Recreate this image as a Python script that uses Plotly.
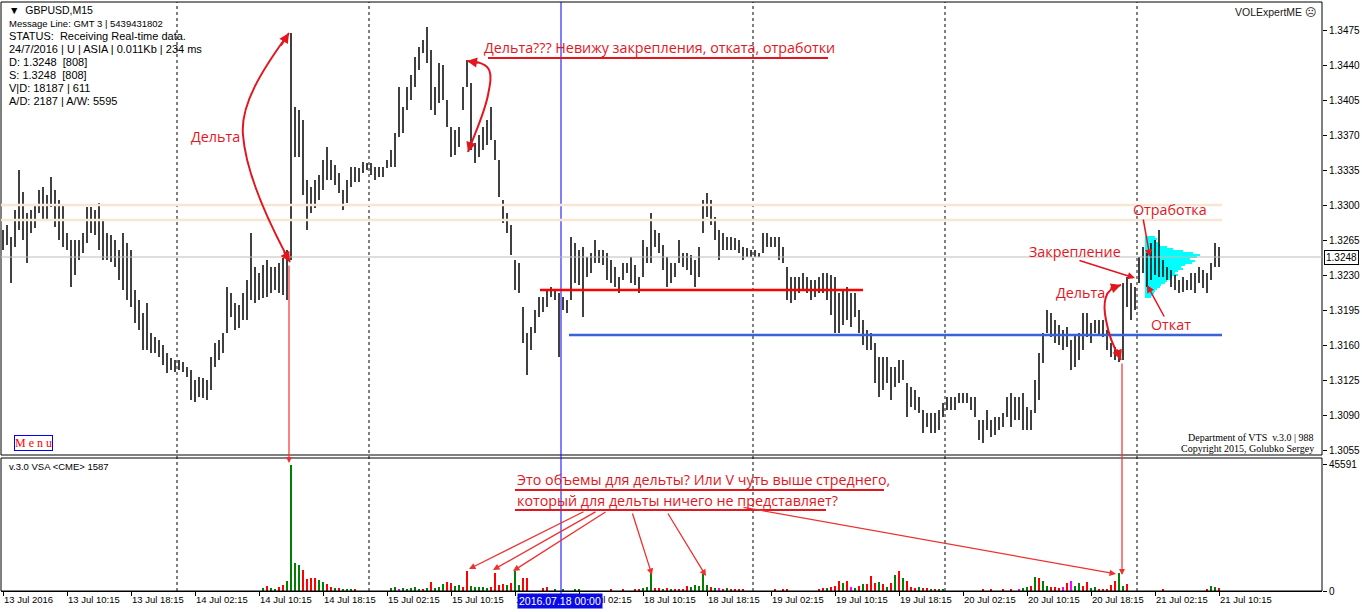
import plotly.graph_objects as go

# ------------------------------------------------------------------ data
# GBPUSD, 30-minute high/low sampled (time index in M15 bars = 2*k)
high = [
 1.3275,1.3280,1.3268,1.3295,1.3335,1.3313,1.3292,1.3295,1.3300,1.3315,
 1.3318,1.3310,1.3328,1.3315,1.3305,1.3300,1.3272,1.3265,1.3265,1.3265,
 1.3272,1.3298,1.3298,1.3295,1.3302,1.3285,1.3272,1.3270,1.3265,1.3255,
 1.3272,1.3262,
 1.3255,1.3215,1.3205,1.3192,1.3202,1.3172,1.3168,1.3165,1.3160,1.3152,
 1.3147,1.3145,1.3145,1.3143,1.3138,1.3135,1.3125,1.3128,1.3127,1.3125,
 1.3148,1.3162,1.3165,1.3172,1.3218,1.3212,1.3202,1.3200,1.3212,1.3225,
 1.3272,1.3238,1.3232,1.3240,1.3245,1.3238,1.3238,1.3242,1.3247,1.3255,
 1.3472,1.3398,1.3395,1.3385,1.3325,1.3318,1.3325,1.3330,1.3345,1.3358,
 1.3345,1.3340,1.3332,1.3315,1.3325,1.3338,1.3338,1.3337,1.3343,1.3342,
 1.3342,1.3338,1.3338,1.3338,1.3345,1.3355,1.3372,1.3418,1.3398,1.3418,
 1.3430,1.3448,1.3458,1.3465,1.3478,1.3455,1.3418,1.3442,1.3440,1.3405,
 1.3378,1.3375,1.3378,1.3418,1.3445,1.3422,1.3362,1.3370,
 1.3378,1.3385,1.3398,1.3365,1.3345,1.3305,1.3292,1.3280,1.3245,1.3242,
 1.3198,1.3172,1.3178,1.3195,1.3208,1.3208,1.3215,1.3218,1.3215,1.3212,
 1.3208,1.3205,1.3268,1.3262,1.3255,1.3258,1.3248,1.3252,1.3265,1.3255,
 1.3255,1.3252,1.3245,1.3238,1.3228,1.3242,1.3242,1.3248,1.3240,1.3228,
 1.3265,1.3258,1.3292,1.3275,1.3272,1.3260,1.3248,1.3242,1.3242,1.3265,
 1.3252,1.3252,1.3250,1.3245,1.3258,1.3305,1.3312,1.3305,1.3288,1.3275,
 1.3272,1.3268,1.3268,1.3267,1.3265,1.3258,1.3257,1.3255,1.3255,1.3252,
 1.3272,1.3272,1.3268,1.3268,1.3268,1.3258,1.3238,1.3228,1.3228,1.3228,
 1.3232,1.3228,1.3225,1.3225,1.3228,1.3232,1.3232,1.3230,
 1.3228,1.3212,1.3215,1.3218,1.3212,1.3212,1.3195,1.3185,1.3175,1.3172,
 1.3162,1.3148,1.3148,1.3148,1.3138,1.3138,1.3145,1.3145,1.3122,1.3118,
 1.3115,1.3108,1.3095,1.3092,1.3092,1.3092,1.3095,1.3102,1.3108,1.3108,
 1.3108,1.3112,1.3112,1.3112,1.3108,1.3108,1.3085,1.3085,1.3095,1.3085,
 1.3088,1.3088,1.3092,1.3108,1.3112,1.3108,1.3108,1.3112,1.3098,1.3095,
 1.3125,1.3152,1.3172,1.3195,1.3192,1.3185,1.3180,1.3175,1.3178,1.3165,
 1.3170,1.3172,1.3192,1.3192,1.3182,1.3185,1.3185,1.3185,1.3175,1.3162,
 1.3158,1.3155,1.3222,1.3228,1.3222,1.3218,1.3248,1.3258,1.3252,1.3262,
 1.3265,1.3275,1.3245,1.3238,1.3235,1.3230,1.3225,1.3228,
 1.3225,1.3232,1.3232,1.3238,1.3235,1.3232,1.3242,1.3262,1.3258,
]
low = [
 1.3255,1.3260,1.3222,1.3258,1.3275,1.3265,1.3242,1.3272,1.3277,1.3292,
 1.3285,1.3285,1.3298,1.3278,1.3265,1.3258,1.3255,1.3218,1.3230,1.3245,
 1.3252,1.3262,1.3272,1.3270,1.3255,1.3245,1.3245,1.3243,1.3238,1.3225,
 1.3215,1.3205,
 1.3198,1.3182,1.3175,1.3155,1.3155,1.3152,1.3152,1.3148,1.3140,1.3132,
 1.3135,1.3133,1.3135,1.3133,1.3128,1.3105,1.3103,1.3108,1.3107,1.3105,
 1.3115,1.3138,1.3145,1.3152,1.3172,1.3188,1.3175,1.3177,1.3185,1.3185,
 1.3205,1.3202,1.3205,1.3207,1.3208,1.3212,1.3215,1.3212,1.3210,1.3205,
 1.3245,1.3348,1.3348,1.3310,1.3275,1.3292,1.3297,1.3305,1.3315,1.3325,
 1.3325,1.3320,1.3312,1.3295,1.3302,1.3318,1.3323,1.3323,1.3332,1.3335,
 1.3330,1.3325,1.3328,1.3328,1.3337,1.3338,1.3338,1.3368,1.3372,1.3395,
 1.3405,1.3418,1.3435,1.3452,1.3442,1.3395,1.3390,1.3402,1.3405,1.3378,
 1.3348,1.3350,1.3358,1.3395,1.3418,1.3355,1.3342,1.3348,
 1.3355,1.3360,1.3365,1.3345,1.3308,1.3282,1.3272,1.3250,1.3215,1.3212,
 1.3162,1.3130,1.3155,1.3172,1.3188,1.3193,1.3198,1.3208,1.3205,1.3148,
 1.3195,1.3192,1.3205,1.3222,1.3220,1.3188,1.3228,1.3232,1.3242,1.3242,
 1.3240,1.3225,1.3222,1.3218,1.3212,1.3225,1.3232,1.3222,1.3220,1.3212,
 1.3228,1.3242,1.3242,1.3258,1.3252,1.3235,1.3218,1.3222,1.3228,1.3242,
 1.3238,1.3235,1.3230,1.3218,1.3228,1.3272,1.3288,1.3280,1.3265,1.3245,
 1.3255,1.3255,1.3255,1.3255,1.3252,1.3245,1.3248,1.3248,1.3248,1.3248,
 1.3252,1.3258,1.3258,1.3258,1.3245,1.3242,1.3205,1.3202,1.3205,1.3212,
 1.3215,1.3212,1.3205,1.3208,1.3212,1.3212,1.3205,1.3190,
 1.3172,1.3172,1.3180,1.3185,1.3178,1.3188,1.3172,1.3160,1.3155,1.3155,
 1.3122,1.3108,1.3115,1.3122,1.3105,1.3118,1.3122,1.3125,1.3088,1.3098,
 1.3095,1.3092,1.3072,1.3078,1.3072,1.3072,1.3075,1.3088,1.3095,1.3095,
 1.3095,1.3102,1.3102,1.3102,1.3095,1.3088,1.3065,1.3062,1.3075,1.3068,
 1.3070,1.3075,1.3078,1.3088,1.3078,1.3085,1.3085,1.3075,1.3075,1.3075,
 1.3092,1.3105,1.3142,1.3172,1.3168,1.3162,1.3160,1.3155,1.3158,1.3135,
 1.3138,1.3145,1.3155,1.3168,1.3162,1.3172,1.3170,1.3168,1.3155,1.3148,
 1.3145,1.3143,1.3145,1.3198,1.3185,1.3195,1.3222,1.3232,1.3218,1.3225,
 1.3230,1.3228,1.3228,1.3225,1.3218,1.3215,1.3212,1.3213,
 1.3215,1.3215,1.3212,1.3222,1.3217,1.3212,1.3225,1.3238,1.3238,
]

# volume sub-window (VSA, CME) - only the bars that are visible
vol_bar = [65,66,67,68,69,70,71,72,73,74,75,76,77,78,79,80,81,82,83,84,85,86,87,88,
           97,98,99,100,101,102,103,104,105,106,107,108,109,110,111,112,113,114,115,116,117,118,119,120,
           121,122,123,124,125,126,127,128,129,130,131,
           135,136,138,140,143,144,152,155,
           158,159,160,161,162,163,164,165,166,167,168,169,170,171,172,173,174,175,176,177,178,179,180,
           181,182,183,184,185,193,195,196,
           204,205,206,207,208,209,210,211,212,213,214,215,216,217,218,219,220,221,222,223,224,225,226,
           227,228,229,230,231,232,233,234,235,245,247,250,
           252,254,255,256,257,258,259,260,261,262,263,264,265,266,267,268,269,270,271,272,273,274,275,
           276,277,278,279,280,281,290,301,302,303,304]
vol_value = [1100,1800,1100,700,1400,2200,3600,45591,10000,9400,7600,4300,4700,4700,4000,3200,2500,1400,1100,1100,700,700,700,400,
             1100,1400,700,1100,700,1100,1400,700,700,1100,3200,1100,1400,2500,3200,2900,1800,2200,1400,7200,1800,1400,1400,1400,
             1100,1400,6500,2200,2500,2200,2900,7200,2200,4700,4700,
             1100,1400,400,400,700,400,400,400,
             400,700,1100,1400,7200,1100,1100,700,1100,700,700,700,700,1800,1400,2200,1800,6100,2200,1400,1100,1100,700,
             1100,700,700,700,700,400,400,700,
             700,1100,1100,1400,1800,3600,2900,3600,1400,1100,1800,2500,2500,5400,2900,3200,2500,1400,2900,5800,7200,4700,3600,
             1400,1100,1400,1100,1100,700,700,700,400,400,700,400,
             400,700,1100,1400,1800,5000,4700,3600,1800,1400,1400,1100,1400,2900,3600,1800,2900,1800,3200,1100,1400,700,700,
             700,2200,3600,6500,1800,2500,400,700,1800,1400,1100]
vol_side = ["u","d","u","u","d","d","u","u","u","u","d","d","d","d","u","u","d","d","u","d","u","u","u","d",
            "u","u","n","u","u","u","u","u","d","u","d","u","u","u","d","d","u","u","d","d","u","u","u","u",
            "u","d","d","d","d","u","d","u","u","d","d",
            "d","d","u","u","u","u","d","d",
            "d","d","u","u","u","d","d","u","d","u","d","d","d","d","u","u","u","u","u","d","u","n","d",
            "u","d","d","d","d","d","d","d",
            "d","d","u","d","d","d","u","d","n","u","d","u","d","d","d","u","d","u","d","u","d","u","d",
            "d","d","u","d","d","u","d","u","u","d","d","d",
            "d","n","u","u","d","u","d","u","u","d","d","d","n","d","n","u","u","d","d","u","u","d","d",
            "d","d","d","u","u","d","d","d","u","u","d"]

# cyan volume-at-price profile of the last session
prof_start = 571
prof_price = [1.3268,1.3266,1.3264,1.3262,1.3260,1.3258,1.3256,1.3254,1.3252,1.3250,
              1.3248,1.3246,1.3244,1.3242,1.3240,1.3238,1.3236,1.3234,1.3232,1.3230,
              1.3228,1.3226,1.3224,1.3222,1.3220,1.3218,1.3216,1.3214,1.3212,1.3210,1.3208]
prof_vol = [10,12,11,13,15,22,28,38,48,55,52,45,50,47,40,36,38,33,30,33,27,25,22,20,16,15,12,10,9,8,6]

tick_idx = [0,32,64,96,128,160,192,224,256,288,320,352,384,416,448,480,512,544,576,608]
tick_text = ["13 Jul 2016","13 Jul 10:15","13 Jul 18:15","14 Jul 02:15","14 Jul 10:15",
             "14 Jul 18:15","15 Jul 02:15","15 Jul 10:15","15 Jul 18:15","18 Jul 02:15",
             "18 Jul 10:15","18 Jul 18:15","19 Jul 02:15","19 Jul 10:15","19 Jul 18:15",
             "20 Jul 02:15","20 Jul 10:15","20 Jul 18:15","21 Jul 02:15","21 Jul 10:15"]
price_ticks = [1.3055,1.3090,1.3125,1.3160,1.3195,1.3230,1.3265,1.3300,1.3335,1.3370,1.3405,1.3440,1.3475]
day_starts = [87,183,375,471,567]
week_start = 279
bid = 1.3248
levels_beige = [1.3300,1.3285]
level_red = 1.3215
level_blue = 1.3170

# ------------------------------------------------------------------ geometry helpers
W, H = 1362, 612
ML, MR, MT, MB = 1, 40, 2, 21
PW = W - ML - MR
PH = H - MT - MB
def PX(px): return (px - ML) / PW
def PY(py): return (H - MB - py) / PH
def IX(px): return (px - 3) / 2.0     # pixel -> time index (for drawn objects)

RED = "#E3161E"
SIDE_COL = {"u": "#008000", "d": "#FF0000", "n": "#FF00FF"}

fig = go.Figure()

# profile (under the bars)
fig.add_trace(go.Bar(orientation="h", y=prof_price, x=[v * 0.5 for v in prof_vol], base=prof_start,
                     width=0.0002, marker=dict(color="#00FFFF", line=dict(width=0)),
                     xaxis="x", yaxis="y", hoverinfo="skip", showlegend=False))

xs, ys = [], []
for k, (h, l) in enumerate(zip(high, low)):
    xs += [2 * k, 2 * k, None]
    ys += [h, l, None]
fig.add_trace(go.Scatter(x=xs, y=ys, mode="lines", line=dict(color="black", width=1.5),
                         xaxis="x", yaxis="y", hoverinfo="skip", showlegend=False))

fig.add_trace(go.Bar(x=[2 * k for k in vol_bar], y=vol_value, width=0.8,
                     marker=dict(color=[SIDE_COL[s] for s in vol_side], line=dict(width=0)),
                     xaxis="x", yaxis="y2", hoverinfo="skip", showlegend=False))

shapes = []
# panel frames
shapes.append(dict(type="rect", xref="paper", yref="paper", x0=0, x1=1, y0=PY(455), y1=1,
                   line=dict(color="black", width=1)))
shapes.append(dict(type="rect", xref="paper", yref="paper", x0=0, x1=1, y0=0, y1=PY(458),
                   line=dict(color="black", width=1)))
# day separators
for d in day_starts:
    shapes.append(dict(type="line", xref="x", yref="paper", x0=d, x1=d, y0=0, y1=1,
                       line=dict(color="black", width=1, dash="3px,3px")))
shapes.append(dict(type="line", xref="x", yref="paper", x0=week_start, x1=week_start, y0=PY(594), y1=1,
                   line=dict(color="#0000FF", width=1)))
# horizontal levels
for lv in levels_beige:
    shapes.append(dict(type="line", xref="x", yref="y", x0=-1, x1=IX(1222), y0=lv, y1=lv,
                       line=dict(color="#F6E6D4", width=2.5)))
shapes.append(dict(type="line", xref="paper", yref="y", x0=0, x1=1, y0=bid, y1=bid,
                   line=dict(color="#BDBDBD", width=1)))
shapes.append(dict(type="line", xref="x", yref="y", x0=IX(540), x1=IX(863), y0=level_red, y1=level_red,
                   line=dict(color="#FF0000", width=2.5)))
shapes.append(dict(type="line", xref="x", yref="y", x0=IX(569), x1=IX(1222), y0=level_blue, y1=level_blue,
                   line=dict(color="#3A62D6", width=2.5)))
# underlines
for (x0, x1, yy) in [(488, 828, 58), (515, 884, 490), (515, 826, 510)]:
    shapes.append(dict(type="line", xref="paper", yref="paper", x0=PX(x0), x1=PX(x1), y0=PY(yy), y1=PY(yy),
                       line=dict(color=RED, width=2)))

def curve(pts):
    p = "M %f,%f" % (PX(pts[0][0]), PY(pts[0][1]))
    for i in range(1, len(pts), 3):
        a, b, c = pts[i], pts[i + 1], pts[i + 2]
        p += " C %f,%f %f,%f %f,%f" % (PX(a[0]), PY(a[1]), PX(b[0]), PY(b[1]), PX(c[0]), PY(c[1]))
    return dict(type="path", xref="paper", yref="paper", path=p, line=dict(color=RED, width=2))

shapes.append(curve([(289, 33), (262, 70), (240, 105), (243, 135), (246, 175), (270, 225), (290, 262)]))
shapes.append(curve([(467, 61), (495, 62), (492, 75), (488, 95), (484, 115), (474, 135), (468, 152)]))
shapes.append(curve([(1121, 285), (1103, 288), (1103, 305), (1106, 320), (1109, 338), (1115, 350), (1121, 360)]))

ann = []
def arrow(head, tail, width=2, hs=2, size=1.0, color=RED):
    ann.append(dict(x=PX(head[0]), y=PY(head[1]), xref="paper", yref="paper",
                    ax=tail[0] - head[0], ay=tail[1] - head[1], axref="pixel", ayref="pixel",
                    showarrow=True, arrowhead=hs, arrowsize=size, arrowwidth=width,
                    arrowcolor=color, text=""))

def text(px, py, s, size=14.3, color=RED, family="Open Sans", anchor="left", **kw):
    ann.append(dict(x=PX(px), y=PY(py), xref="paper", yref="paper", text=s, showarrow=False,
                    xanchor=anchor, yanchor="middle", font=dict(size=size, color=color, family=family), **kw))

# arrow heads of curves
arrow((289, 33), (280, 47))
arrow((290, 262), (283, 250))
arrow((467, 61), (480, 63))
arrow((468, 152), (472, 140))
arrow((1121, 285), (1109, 289))
arrow((1121, 360), (1116, 348))
# long vertical pointers to volume
arrow((289, 463), (289, 264), width=1.2, color="#F03030")
arrow((1122, 575), (1122, 362), width=1.2, color="#F03030")
# straight arrows
arrow((1135, 278), (1078, 260), width=1.5)
arrow((1150, 257), (1143, 218), width=1.5)
arrow((1147, 285), (1165, 318), width=1.5)
for head, tail in [((469, 569), (585, 511)), ((493, 570), (597, 511)), ((513, 571), (607, 511)),
                   ((652, 575), (632, 512)), ((706, 576), (667, 512)), ((1116, 574), (742, 507))]:
    arrow(head, tail, width=1.3, color="#F03030")

# red comments
text(189, 136, "Дельта")
text(482, 48, "Дельта??? Невижу закрепления, отката, отработки")
text(1027, 251, "Закрепление")
text(1131, 209, "Отработка")
text(1054, 292, "Дельта")
text(1149, 324, "Откат")
text(515, 479, "Это объемы для дельты? Или V чуть выше стреднего,")
text(515, 500, "который для дельты ничего не представляет?")

# indicator / terminal texts
BLK = "black"
text(7, 10, "▼  GBPUSD,M15", size=10.5, color=BLK, family="Liberation Sans")
text(7, 23, "Message Line: GMT 3 | 5439431802", size=9.5, color=BLK, family="Liberation Sans")
for i, s in enumerate(["STATUS:  Receiving Real-time data.",
                       "24/7/2016 | U | ASIA | 0.011Kb | 234 ms",
                       "D: 1.3248  [808]", "S: 1.3248  [808]",
                       "V|D: 18187 | 611", "A/D: 2187 | A/W: 5595"]):
    text(7, 36 + 13 * i, s, size=11, color=BLK, family="Liberation Sans")
text(1318, 12, "VOLExpertME ☹", size=10.5, color="#202020", family="Liberation Sans", anchor="right")
text(1316, 437, "Department of VTS  v.3.0 | 988", size=10, color=BLK, family="Liberation Serif", anchor="right")
text(1316, 448, "Copyright 2015, Golubko Sergey", size=10, color=BLK, family="Liberation Serif", anchor="right")
text(7, 466, "v.3.0 VSA &lt;CME&gt; 1587", size=9.5, color=BLK, family="Liberation Sans")
ann.append(dict(x=PX(33), y=PY(442.5), xref="paper", yref="paper", text="M e n u", showarrow=False,
                font=dict(size=12, color="#FF0000", family="Liberation Serif"),
                bordercolor="#0000FF", borderwidth=1, borderpad=0, bgcolor="white",
                xanchor="center", yanchor="middle"))
ann.append(dict(x=PX(560), y=PY(601), xref="paper", yref="paper", text="2016.07.18 00:00", showarrow=False,
                font=dict(size=10.5, color="white", family="Liberation Sans"),
                bgcolor="#0A0AE6", borderpad=1, xanchor="center", yanchor="middle"))
ann.append(dict(x=1.0, y=bid, xref="paper", yref="y", text="1.3248", showarrow=False,
                xanchor="left", yanchor="middle", xshift=2,
                font=dict(size=10, color="black", family="Liberation Sans"),
                bgcolor="white", bordercolor="black", borderwidth=1, borderpad=1))

fig.update_layout(
    width=W, height=H, margin=dict(l=ML, r=MR, t=MT, b=MB),
    paper_bgcolor="white", plot_bgcolor="white", barmode="overlay", bargap=0,
    showlegend=False, shapes=shapes, annotations=ann,
    xaxis=dict(domain=[0, 1], range=[IX(1), IX(1322)], anchor="y2",
               tickmode="array", tickvals=tick_idx, ticktext=tick_text,
               ticks="outside", ticklen=4, tickcolor="black", ticklabelposition="outside right",
               tickfont=dict(size=9.5, color="black", family="Liberation Sans"),
               showgrid=False, zeroline=False, showline=True, linecolor="black"),
    yaxis=dict(domain=[PY(455), 1], range=[1.3050, 1.3503], side="right", anchor="x",
               tickmode="array", tickvals=price_ticks, tickformat=".4f",
               ticks="outside", ticklen=4, tickcolor="black",
               tickfont=dict(size=10, color="black", family="Liberation Sans"),
               showgrid=False, zeroline=False),
    yaxis2=dict(domain=[0, PY(458)], range=[0, 48000], side="right", anchor="x",
                tickmode="array", tickvals=[0, 45591], ticktext=["0", "45591"],
                ticks="outside", ticklen=4, tickcolor="black",
                tickfont=dict(size=10, color="black", family="Liberation Sans"),
                showgrid=False, zeroline=False),
)

fig.write_html("out.html", config={"displayModeBar": False},
               post_script="document.body.style.margin='0';document.body.style.overflow='hidden';")
